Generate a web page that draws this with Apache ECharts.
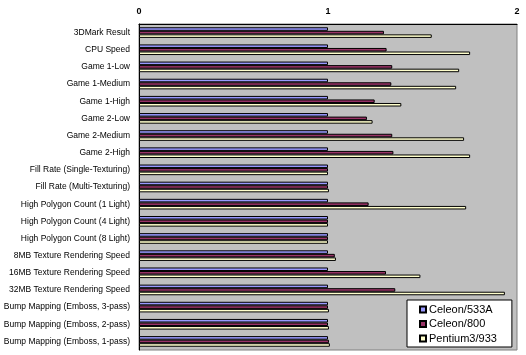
<!DOCTYPE html>
<html>
<head>
<meta charset="utf-8">
<script src="https://cdn.jsdelivr.net/npm/echarts@6/dist/echarts.min.js"></script>
<style>html,body{margin:0;padding:0;background:#fff;}#c{width:526px;height:355px;}</style>
</head>
<body>
<div id="c"></div>
<script>
const categories = [
  "3DMark Result", "CPU Speed", "Game 1-Low", "Game 1-Medium", "Game 1-High",
  "Game 2-Low", "Game 2-Medium", "Game 2-High", "Fill Rate (Single-Texturing)",
  "Fill Rate (Multi-Texturing)", "High Polygon Count (1 Light)", "High Polygon Count (4 Light)",
  "High Polygon Count (8 Light)", "8MB Texture Rendering Speed", "16MB Texture Rendering Speed",
  "32MB Texture Rendering Speed", "Bump Mapping (Emboss, 3-pass)", "Bump Mapping (Emboss, 2-pass)",
  "Bump Mapping (Emboss, 1-pass)"
];
const seriesNames = ["Celeon/533A", "Celeon/800", "Pentium3/933"];
const celeron533 = [1,1,1,1,1,1,1,1,1,1,1,1,1,1,1,1,1,1,1];
const celeron800 = [1.296,1.31,1.34,1.335,1.247,1.206,1.34,1.346,1,1,1.215,1,1,1.036,1.307,1.356,1,1,1.005];
const pentium933 = [1.549,1.752,1.694,1.678,1.388,1.236,1.72,1.752,1,1.005,1.731,1,1,1.042,1.489,1.936,1.005,1.005,1.01];
const xTicks = [0, 1, 2];

const colors = ["#9999ff", "#993366", "#ffffcc"];
const values = [celeron533, celeron800, pentium933];

const chart = echarts.init(document.getElementById('c'), null, {renderer: 'canvas'});
chart.setOption({
  animation: false,
  textStyle: {fontFamily: 'Liberation Sans, Arial, sans-serif'},
  grid: {left: 139, right: 9, top: 24, bottom: 5, outerBoundsMode: 'none', containLabel: false,
         show: true, backgroundColor: '#c0c0c0', borderColor: '#808080', borderWidth: 1},
  legend: {
    orient: 'vertical', left: 407, top: 300,
    data: seriesNames,
    backgroundColor: '#ffffff', borderColor: '#000', borderWidth: 1,
    padding: [3, 15, 2, 12],
    itemGap: 1.5, itemWidth: 6, itemHeight: 6, icon: 'rect',
    textStyle: {fontSize: 11, color: '#000', lineHeight: 13, padding: [0, 0, 0, -2]}
  },
  xAxis: {
    type: 'value', position: 'top', min: xTicks[0], max: xTicks[xTicks.length - 1], interval: 1,
    axisLine: {show: true, lineStyle: {color: '#000', width: 1}},
    axisTick: {show: false},
    splitLine: {show: false},
    axisLabel: {fontSize: 9, color: '#000', fontWeight: 'bold', margin: 8}
  },
  yAxis: {
    type: 'category', inverse: true, data: categories,
    axisLine: {show: true, lineStyle: {color: '#000', width: 1}},
    axisTick: {show: false},
    axisLabel: {fontSize: 8.5, color: '#000', margin: 9, interval: 0}
  },
  series: seriesNames.map((n, i) => ({
    name: n, type: 'bar', data: values[i],
    barGap: 0, barCategoryGap: '38%',
    itemStyle: {color: colors[i], borderColor: '#000', borderWidth: 1}
  }))
});
</script>
</body>
</html>
